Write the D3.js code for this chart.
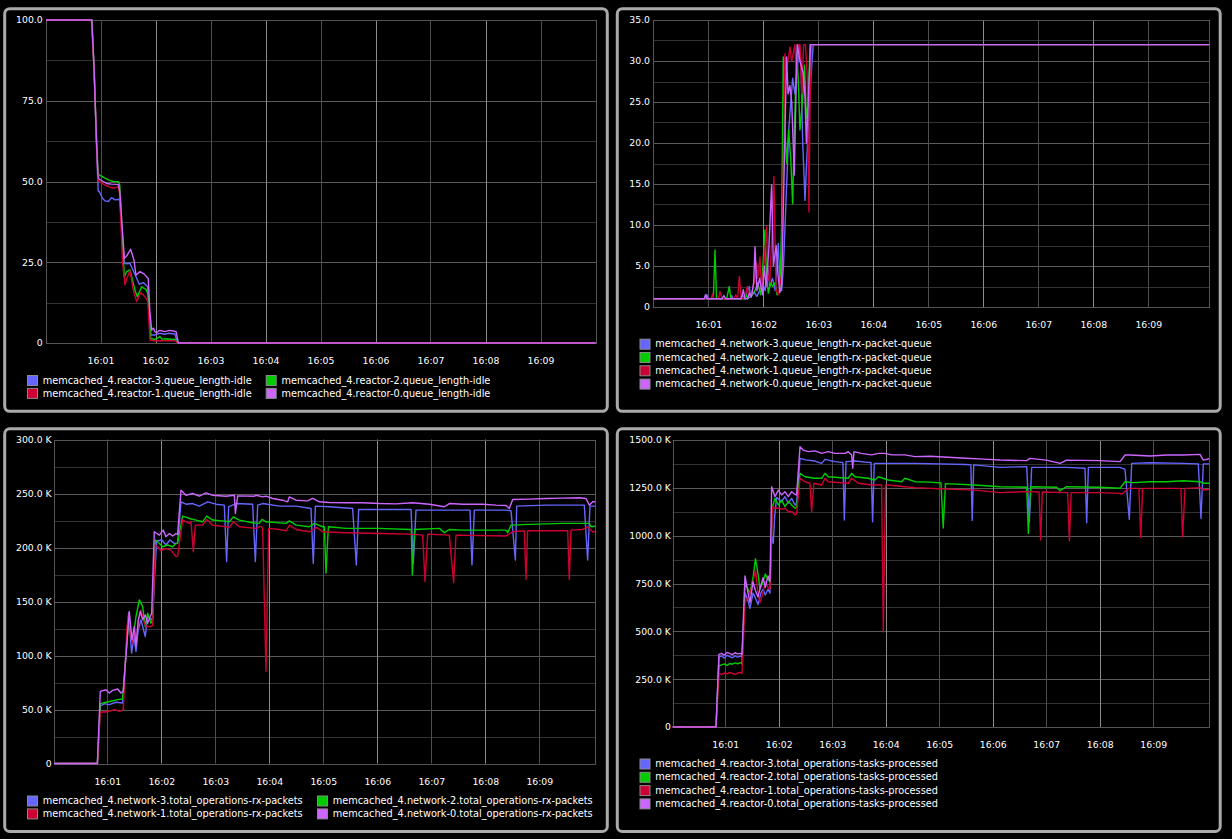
<!DOCTYPE html>
<html><head><meta charset="utf-8">
<script src="https://cdn.jsdelivr.net/npm/d3@7"></script>
<style>
html,body{margin:0;padding:0;background:#000;}
svg{display:block;}
</style></head><body>
<svg id="c" width="1232" height="839"></svg>
<script>
// ===== DATA: [seconds after 16:00:00, value] =====
const seriesColors = ["#6666ff", "#00cc00", "#cc0033", "#cc66ff"];
const timeTickLabels = ["16:01","16:02","16:03","16:04","16:05","16:06","16:07","16:08","16:09"];

// --- panel 1: queue_length-idle ---
const idleLabels = ["memcached_4.reactor-3.queue_length-idle","memcached_4.reactor-2.queue_length-idle","memcached_4.reactor-1.queue_length-idle","memcached_4.reactor-0.queue_length-idle"];
const idleTicks = [0, 25, 50, 75, 100];
const idleReactor3 = [[0,100],[50.5,100],[53,85],[55.5,62],[57.5,47],[58.7,46.9],[62.1,44.8],[65,44],[68.5,43.8],[72,45],[75.8,44.3],[80.5,44.5],[81.5,42],[86,24.7],[88.5,24.5],[92.1,24.7],[97,21.6],[102.3,18.2],[106.7,18.7],[111.4,17.4],[113.5,8],[115,2.5],[119.4,2.5],[124.7,3],[130,2.7],[134,3],[141.2,2.8],[143,1],[144.9,0],[600,0]];
const idleReactor2 = [[0,100],[50.5,100],[53,85],[55.5,63],[57.5,52.5],[58.7,52],[62.1,51.5],[68.5,50.5],[74,50],[79.4,49.95],[81,49],[86,20.5],[88.5,22.1],[92.1,22.6],[97.6,16.4],[100.1,14.3],[104.9,17.4],[109.6,16.6],[112,15],[114.7,1.4],[119.4,1.1],[122,1.5],[124.7,2],[127,1.2],[132,1.3],[138,1.1],[141.2,1.2],[143,0.5],[144.9,0],[600,0]];
const idleReactor1 = [[0,100],[50,100],[53,85],[55.5,64],[57.3,50.5],[58.7,50],[63,49.2],[68.5,48.4],[74,47.9],[79.4,48.4],[81,46],[84,25],[86.7,18],[88.5,19.8],[92.1,22.4],[95.8,16.4],[99.4,12.8],[103.8,15.6],[108.5,14.3],[111.5,13],[114,0.9],[117.7,0.7],[125,0.7],[135,0.7],[141.2,0.7],[143,0.3],[144.9,0],[600,0]];
const idleReactor0 = [[0,100],[50.5,100],[53,85],[55.5,64],[57.3,51.5],[58.7,50.7],[63,50],[66.6,49.4],[72,49.2],[79.4,49.1],[81,47],[86,26.2],[88.5,26.9],[92.9,29],[96.5,25.7],[98.7,21],[103,22.1],[107.4,21.4],[112.1,20],[113.8,10],[115.8,4],[117.7,4.6],[119.4,3.5],[121,3.1],[124,3.9],[128,3.7],[130.3,3.5],[135,3.9],[139.4,3.7],[142.5,3.5],[144.9,0],[600,0]];

// --- panel 2: queue_length-rx-packet-queue ---
const rxQueueLabels = ["memcached_4.network-3.queue_length-rx-packet-queue","memcached_4.network-2.queue_length-rx-packet-queue","memcached_4.network-1.queue_length-rx-packet-queue","memcached_4.network-0.queue_length-rx-packet-queue"];
const rxQueueTicks = [0, 5, 10, 15, 20, 25, 30, 35];
const rxQueueNet3 = [[0,1],[57,1],[58.5,1.5],[60,1],[84,1],[85.5,1.4],[87,1],[95,1],[97,1.5],[99,1],[104.7,2.5],[106,1.2],[110,1.8],[113,1.3],[116,2],[119,3],[122,2],[125,5],[127,2.5],[130,3.5],[133,2],[136.4,7.76],[138,3],[140,2],[142,5],[145.4,14.7],[148,22],[152,27.9],[154.5,26],[157,29],[159.3,32],[161,30],[163,20],[165.5,13],[167,17],[169,21.6],[172,28],[174.5,32],[607,32]];
const rxQueueNet2 = [[0,1],[65.5,1],[67.3,6.95],[69,1],[80,1],[82.9,2.5],[84.5,1],[100,1],[101.5,1.6],[103,1],[108,1.5],[111,2],[114,3],[117,1.5],[119,4],[121.8,9.4],[123.5,4],[125.5,1.7],[128,3],[130,2.5],[133,3],[135,1.5],[138,1.8],[140,10],[141.8,30.5],[143.5,22],[145.4,17.5],[147.6,21.6],[150,18],[152,12.6],[154,22],[156.5,31],[158,28],[160,21.6],[163,25.5],[165,29.5],[167,23],[169,25],[171,32],[607,32]];
const rxQueueNet1 = [[0,1],[63,1],[64.7,1.6],[66,1],[71,1],[72.7,1.9],[74.5,1.2],[76.4,1],[88,1],[90,1.5],[92,1],[93.8,3.7],[96,1],[100,1.2],[102.5,2.5],[104,1.3],[107,1.5],[110,3],[112.7,5.3],[114,3.5],[116.4,6.1],[118,2],[120,4],[123.6,9.8],[125,4],[127,3],[129.5,9],[131.6,15.9],[133.8,2.1],[136.4,1.5],[138,2.5],[140,4],[143.6,30.9],[145,29],[147,30],[149.1,31.7],[151,30],[154.5,32],[156,28],[158,32],[160,32],[162,26],[164,32],[166,32],[168,28],[169.8,11.6],[171,25],[172.5,32],[607,32]];
const rxQueueNet0 = [[0,1],[55.5,1],[57,1.5],[58.5,1],[75,1],[77,1.4],[79,1],[96,1],[98.2,2.1],[100,1],[103,1],[105,1.7],[107,1.2],[109.5,3],[111,7.35],[113,2],[116,3.5],[119,1.5],[121,5],[123,2.5],[126,7],[129.1,14.9],[131,5],[134,7.5],[136,4],[138,1.8],[140,2.5],[145.4,30.5],[147,26],[149,27],[151,25],[153.8,16.1],[156,28],[157,32],[160,30],[163.6,28.5],[165.5,25.5],[167,20],[169,25],[171.6,32],[607,32]];

// --- panel 3: total_operations-rx-packets (K) ---
const rxPktLabels = ["memcached_4.network-3.total_operations-rx-packets","memcached_4.network-2.total_operations-rx-packets","memcached_4.network-1.total_operations-rx-packets","memcached_4.network-0.total_operations-rx-packets"];
const rxPktTicks = [0, 50, 100, 150, 200, 250, 300];
const rxPktNet3 = [[0,0],[49,0],[52.2,53],[56.7,55.4],[62.2,54.5],[69.6,56.7],[77,56],[83.7,139.2],[87,102.2],[89.6,117.6],[91.9,103.7],[94.4,123.8],[97.4,133],[102.2,117.6],[104.8,136.1],[108.5,133],[110.4,135],[112.2,166.9],[114.8,206],[120.7,206.9],[125.2,202.3],[129.6,206.9],[134.4,203.8],[138.1,204],[141.9,242.3],[147.4,240.1],[154.8,240.7],[162.2,238.3],[171.5,242.3],[180.7,240.1],[190,239.2],[192.6,186.9],[194.8,237.7],[203,240.7],[221.5,240.1],[224.5,186.9],[227.1,239.2],[232.6,240.7],[251.2,238.3],[269.7,238.3],[286.3,236.1],[288.9,185.3],[291.2,238.3],[306.7,237.7],[332.6,236.1],[336.7,183.8],[339.3,235.2],[362.3,235.2],[397.5,235.2],[400,185.3],[403,234.6],[463,234.6],[465.2,183.8],[467.8,234.6],[503,234.6],[508.6,234],[513.4,188.4],[514.9,238.3],[547.5,239.2],[590,239.2],[593.7,188.4],[596.3,238.3],[603,238.3]];
const rxPktNet2 = [[0,0],[49,0],[52.2,55.4],[58.5,56.7],[64.1,57.6],[71.5,59.1],[77,59.7],[83.7,133],[86.3,120.7],[88.9,117.6],[91.9,136.1],[95.6,151.5],[99.3,145.3],[102.2,126.8],[104.8,139.2],[108.5,129.9],[110.4,133],[113.3,207],[115.9,205.3],[121.5,200.7],[127,202.3],[132.6,200.7],[136.3,203.8],[138.1,204],[143.7,229.1],[151.1,226.9],[158.5,225.4],[165.9,223.8],[170.4,229.1],[177,225.4],[188.1,224.7],[195.6,223.8],[200,228.4],[206.7,225.4],[221.5,222.9],[228.9,222.3],[231.9,226],[236.3,223.8],[258.6,222.3],[262.3,224.7],[269.7,220.7],[284.5,219.2],[290,222.3],[299.3,219.2],[301.2,219.2],[303,176.1],[305.6,219.2],[325.2,217.7],[362.3,217.7],[395.6,216.7],[397.8,216.7],[398.9,174.6],[401.5,216.7],[429,217.7],[434.5,213.7],[440,216.7],[454.9,216.1],[503,216.1],[504.9,213.7],[508.6,220.7],[529,221.4],[566,222.3],[595.6,222.3],[597.4,219.2],[603,219.8]];
const rxPktNet1 = [[0,0],[49,0],[52.2,47.7],[58.5,47.7],[67.8,49.9],[73.3,48.3],[77.8,49.9],[81.9,126.8],[83.7,137.6],[87.4,111.4],[90,123.8],[91.9,111.4],[94.8,133],[97.4,142.2],[101.1,129.9],[103.7,126.8],[108.5,126.8],[110.4,128],[113.3,202.3],[115.9,200.7],[119.6,197],[125.2,199.2],[130.7,197.6],[136.3,191.5],[138.1,192],[143.7,225.4],[151.1,222.3],[153,223.8],[155.6,196.1],[157.8,220.7],[165.9,220.7],[170.4,226],[177,220.7],[191.9,219.2],[195.6,218.3],[200,223.8],[206.7,219.2],[225.2,217.7],[230.8,219.8],[232.6,217.7],[236.3,85.3],[239.3,217.7],[251.2,216.7],[258.6,215.5],[262.3,220.7],[269.7,216.7],[284.5,214.6],[292.6,218.6],[299.3,214.6],[325.2,213.7],[362.3,213],[395.6,212.4],[410.4,211.5],[413,168.4],[416,212.4],[440,211.5],[444.8,167.5],[447.4,211.5],[503,210.6],[510.4,214.6],[523.3,215.5],[525.2,170.6],[527,215.5],[571.5,215.5],[573.3,170.6],[575.2,216.1],[588,216.7],[593.7,219.2],[599.3,214.6],[603,214.6]];
const rxPktNet0 = [[0,0],[49,0],[52.2,66.8],[58.5,68.3],[62.2,65.3],[65.9,67.7],[71.5,69],[75.2,65.3],[77.8,66.8],[84.4,140.7],[87.4,114.5],[90,126.8],[91.9,108.4],[94.4,133],[96.7,140.7],[99.3,133],[102.2,137.6],[104.8,129.9],[107.8,136.1],[109.3,139.2],[112.2,214.6],[117.8,211.5],[122.2,216.1],[125.2,210],[128.9,213],[132.6,210.6],[136.3,213],[138.1,212],[141.9,253.1],[147.4,248.4],[154.8,250],[162.2,247.5],[169.6,250.6],[177,248.4],[191.9,247.5],[201.2,248.4],[202.3,231.5],[204.9,247.8],[223.4,247.5],[225.2,248.4],[232.6,246.9],[236.3,247.5],[243.7,245.4],[254.9,243.8],[260.4,242.3],[262.3,246.9],[269.7,243.8],[282.6,243.2],[288.2,245.4],[295.6,242.3],[306.7,241.7],[325.2,241.4],[343.7,241.4],[362.3,240.7],[380.8,240.4],[399.3,241.4],[417.8,240.1],[434.5,237.7],[440,240.7],[454.9,240.1],[477,240.1],[491.9,239.2],[503,238.9],[506.7,236.1],[510.4,244.4],[529,244.8],[547.5,245.4],[566,245.7],[584.5,246],[591.9,245.4],[595.6,239.2],[599.3,242.3],[603,242.3]];

// --- panel 4: total_operations-tasks-processed (K) ---
const tasksLabels = ["memcached_4.reactor-3.total_operations-tasks-processed","memcached_4.reactor-2.total_operations-tasks-processed","memcached_4.reactor-1.total_operations-tasks-processed","memcached_4.reactor-0.total_operations-tasks-processed"];
const tasksTicks = [0, 250, 500, 750, 1000, 1250, 1500];
const tasksReactor3 = [[0,0],[49.7,0],[53,365],[56,372],[59,360],[62,375],[65,368],[68,362],[71,372],[74,365],[77,370],[78.8,365],[82.2,700],[85.6,660],[87.8,620],[91.2,700],[93.4,680],[96.8,640],[100,700],[102.4,720],[105,690],[108,720],[110.2,700],[112.1,1000],[113.9,960],[115.5,1100],[117.6,1200],[123.3,1178],[127,1204],[130.8,1170],[134.5,1195],[138.3,1160],[140.1,1170],[143.9,1404],[150,1396],[160.7,1390],[168.2,1378],[171.9,1399],[183,1387],[190.6,1383],[192,1382],[193.6,1082],[195.5,1387],[205.5,1390],[220,1383],[223.5,1383],[225.3,1073],[227.2,1378],[235.4,1378],[272.8,1378],[300,1375],[330,1372],[335.5,1370],[337,1080],[338.7,1370],[368.2,1357],[398.1,1361],[401.1,1073],[403.7,1357],[443,1357],[463.5,1352],[465.4,1068],[467.3,1357],[502.8,1357],[508.4,1346],[513.2,1085],[515.9,1378],[536.4,1381],[573.8,1378],[590.6,1375],[593.6,1090],[596.2,1375],[604,1375]];
const tasksReactor2 = [[0,0],[49.7,0],[53,320],[56,325],[59,330],[62,322],[65,332],[68,328],[71,335],[74,330],[77,336],[78.8,330],[82.2,750],[85.6,720],[87.8,700],[91.2,780],[94,880],[96.8,800],[99,720],[102.4,760],[105,800],[108,770],[110.2,760],[113,1150],[115.8,1195],[119.6,1160],[123.3,1186],[127,1152],[130.8,1178],[134.5,1160],[138.3,1143],[140.1,1150],[143.9,1326],[149.5,1308],[160.7,1300],[168.2,1300],[171.9,1326],[175.6,1308],[190.6,1303],[198,1300],[201.8,1326],[205.5,1308],[220,1300],[228,1291],[231.7,1308],[242.9,1291],[257.9,1282],[261.5,1300],[272.8,1282],[290,1280],[302,1275],[304.5,1040],[307,1272],[340,1265],[368.2,1256],[398.1,1253],[400,1012],[402.6,1256],[431.7,1253],[435.5,1235],[443,1256],[480.3,1253],[502.8,1248],[508.4,1282],[517.7,1277],[536.4,1282],[555.1,1282],[573.8,1287],[592.5,1282],[596.2,1274],[604,1274]];
const tasksReactor1 = [[0,0],[49.7,0],[53,280],[56,275],[59,282],[62,278],[65,285],[68,280],[71,275],[74,282],[77,285],[78.8,280],[82.2,650],[85.6,680],[87.8,700],[91.2,760],[94,820],[96.8,700],[99,650],[102.4,700],[105,760],[108,730],[110.2,720],[113,1151],[115.8,1143],[119.6,1143],[123.3,1139],[127,1143],[130.8,1125],[134.5,1126],[138.3,1108],[140.1,1115],[143.9,1300],[149.5,1282],[155,1274],[156.9,1125],[159.5,1274],[168.2,1265],[171.9,1300],[175.6,1282],[198,1274],[201.8,1300],[209.2,1274],[224.2,1265],[235.4,1265],[237.3,497],[239.8,1265],[242.9,1265],[261.5,1256],[272.8,1251],[300,1245],[340,1238],[368.2,1225],[398.1,1230],[412,1228],[413.8,977],[415.6,1228],[444,1225],[446,974],[448,1225],[480.3,1225],[502.8,1221],[504.6,1216],[512.1,1247],[524,1247],[526,991],[528.2,1247],[555.1,1247],[571,1247],[573,995],[575.7,1247],[592.5,1251],[596.2,1239],[604,1242]];
const tasksReactor0 = [[0,0],[49.7,0],[53,380],[56,385],[59,375],[62,390],[65,385],[68,378],[71,388],[74,382],[77,385],[78.8,378],[82.2,790],[85.6,700],[87.8,650],[91.2,760],[93.4,720],[96.8,680],[100,740],[102.4,780],[105,730],[108,790],[110.2,760],[112.1,1256],[115.8,1204],[119.6,1238],[123.3,1213],[127,1230],[130.8,1204],[134.5,1230],[138.3,1215],[140.1,1213],[143.9,1465],[147.5,1447],[153.2,1439],[160.7,1443],[168.2,1430],[175.6,1439],[183,1430],[194.3,1430],[198,1439],[201.8,1422],[203,1352],[204.4,1439],[212.6,1430],[224.2,1422],[231.7,1430],[239.2,1430],[246.7,1422],[261.5,1422],[272.8,1413],[290,1415],[310,1410],[330,1405],[350,1400],[368.2,1395.5],[398.1,1392],[401.8,1404],[420.5,1395],[435.5,1378],[443,1395],[480.3,1392],[502.8,1387],[508.4,1421.6],[514,1421.6],[536.4,1416],[555.1,1421.6],[573.8,1421.6],[592.5,1425],[596.2,1395],[604,1404]];

// ===== LAYOUT =====
const fmtPlain = v => v === 0 ? "0" : d3.format(".1f")(v);
const fmtK = v => v === 0 ? "0" : d3.format(".1f")(v) + " K";

const panels = [
  { frame:[4.7,8.7,607.3,411.3], plot:{l:46,r:596,t:20,b:343}, xr:[45.5,595.5], ymax:100, ticks:idleTicks, fmt:fmtPlain, gap:3.3,
    series:[idleReactor3, idleReactor2, idleReactor1, idleReactor0], labels:idleLabels, cols:[27,265.7], lTop:375, lStep:12.9 },
  { frame:[617.3,8.7,1220.2,411.3], plot:{l:653.3,r:1209.3,t:20,b:307}, xr:[653.3,1203.3], ymax:35, ticks:rxQueueTicks, fmt:fmtPlain, gap:3.3,
    series:[rxQueueNet3, rxQueueNet2, rxQueueNet1, rxQueueNet0], labels:rxQueueLabels, cols:[639.5], lTop:338.7, lStep:13.3 },
  { frame:[4.7,428.8,607.3,831.4], plot:{l:54,r:595,t:439.5,b:763.5}, xr:[53.3,593.3], ymax:300, ticks:rxPktTicks, fmt:fmtK, gap:2.3,
    series:[rxPktNet3, rxPktNet2, rxPktNet1, rxPktNet0], labels:rxPktLabels, cols:[27,317], lTop:795.5, lStep:12.9 },
  { frame:[617.3,428.8,1220.2,831.4], plot:{l:672.7,r:1209,t:440,b:727}, xr:[671.7,1206.7], ymax:1500, ticks:tasksTicks, fmt:fmtK, gap:1.8,
    series:[tasksReactor3, tasksReactor2, tasksReactor1, tasksReactor0], labels:tasksLabels, cols:[639.5], lTop:758.5, lStep:13.3 }
];

const parseT = d3.timeParse("%H:%M");
const t0 = parseT("16:00");
const toDate = s => new Date(t0.getTime() + s * 1000);
const tickDates = timeTickLabels.map(parseT);

const svg = d3.select("#c");
svg.append("rect").attr("width",1232).attr("height",839).attr("fill","#000");

panels.forEach((p, pi) => {
  const g = svg.append("g");
  const [fx0, fy0, fx1, fy1] = p.frame;
  g.append("rect").attr("x",fx0).attr("y",fy0).attr("width",fx1-fx0).attr("height",fy1-fy0)
    .attr("rx",5).attr("ry",5).attr("fill","#000").attr("stroke","#aaaaaa").attr("stroke-width",3);

  const P = p.plot;
  const x = d3.scaleTime().domain([t0, toDate(600)]).range(p.xr);
  const y = d3.scaleLinear().domain([0, p.ymax]).range([P.b, P.t]);

  // horizontal grid (major at ticks, minor halfway)
  const minors = p.ticks.slice(1).map((t, i) => (t + p.ticks[i]) / 2);
  minors.forEach(v => g.append("line").attr("x1",P.l).attr("x2",P.r)
    .attr("y1",Math.round(y(v))+0.5).attr("y2",Math.round(y(v))+0.5).attr("stroke","#333"));
  p.ticks.forEach(v => g.append("line").attr("x1",P.l).attr("x2",P.r)
    .attr("y1",Math.round(y(v))+0.5).attr("y2",Math.round(y(v))+0.5).attr("stroke","#5a5a5a"));
  // vertical grid (each minute, even minutes brighter)
  tickDates.forEach(d => {
    const xx = Math.round(x(d)) + 0.5;
    g.append("line").attr("x1",xx).attr("x2",xx).attr("y1",P.t).attr("y2",P.b)
      .attr("stroke", d.getMinutes() % 2 === 0 ? "#8c8c8c" : "#4e4e4e");
  });
  // plot border
  g.append("rect").attr("x",Math.round(P.l)+0.5).attr("y",Math.round(P.t)+0.5)
    .attr("width",Math.round(P.r)-Math.round(P.l)).attr("height",Math.round(P.b)-Math.round(P.t))
    .attr("fill","none").attr("stroke","#555");

  // clip
  const cid = "clip" + pi;
  svg.append("clipPath").attr("id",cid).append("rect")
    .attr("x",P.l).attr("y",P.t-2).attr("width",P.r-P.l).attr("height",P.b-P.t+4);

  const line = d3.line().x(d => x(toDate(d[0]))).y(d => y(d[1]));
  const lg = g.append("g").attr("clip-path",`url(#${cid})`);
  p.series.forEach((s, i) => {
    lg.append("path").datum(s).attr("d", line).attr("fill","none")
      .attr("stroke", seriesColors[i]).attr("stroke-width",1.4).attr("stroke-linejoin","round");
  });

  // y axis labels
  const gy = g.append("g").attr("transform",`translate(${P.l - p.gap},0)`)
    .call(d3.axisLeft(y).tickValues(p.ticks).tickFormat(p.fmt).tickSize(0).tickPadding(0));
  gy.select(".domain").remove();
  gy.attr("font-size",9.3).attr("font-family","'DejaVu Sans', sans-serif");
  gy.selectAll("text").attr("fill","#ffffff");

  // x axis labels
  const gx = g.append("g").attr("transform",`translate(0,${P.b})`)
    .call(d3.axisBottom(x).tickValues(tickDates).tickFormat(d3.timeFormat("%H:%M")).tickSize(0).tickPadding(14.4));
  gx.select(".domain").remove();
  gx.attr("font-size",9.3).attr("font-family","'DejaVu Sans', sans-serif");
  gx.selectAll("text").attr("fill","#ffffff");

  // legend
  const nCols = p.cols.length;
  p.labels.forEach((lab, i) => {
    const col = i % nCols, row = Math.floor(i / nCols);
    const lx = p.cols[col], ly = p.lTop + row * p.lStep;
    g.append("rect").attr("x",lx+0.5).attr("y",ly+0.5).attr("width",10).attr("height",10)
      .attr("fill",seriesColors[i]).attr("stroke","#8a8a8a").attr("stroke-width",1);
    g.append("text").attr("x",lx+15.7).attr("y",ly+8.6).text(lab)
      .attr("fill","#ffffff").attr("font-size",9.75).attr("font-family","'DejaVu Sans', sans-serif");
  });
});
</script>
</body></html>
